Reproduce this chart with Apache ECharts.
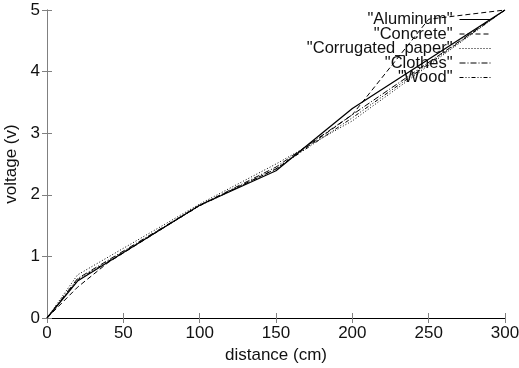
<!DOCTYPE html>
<html>
<head>
<meta charset="utf-8">
<script src="https://cdn.jsdelivr.net/npm/echarts@6/dist/echarts.min.js"></script>
<style>html,body{margin:0;padding:0;background:#fff;}#c{width:519px;height:368px;}</style>
</head>
<body>
<div id="c"></div>
<script>
var seriesNames = ['Aluminum', 'Concrete', 'Corrugated_paper', 'Clothes', 'Wood'];
var aluminum  = [[0,0],[20,0.6],[100,1.83],[150,2.39],[200,3.4],[300,5]];
var concrete  = [[0,0],[20,0.5],[40,0.9],[100,1.83],[150,2.42],[200,3.3],[250,4.85],[300,5]];
var corrugated = [[0,0],[20,0.7],[100,1.85],[150,2.5],[200,3.2],[300,5]];
var clothes   = [[0,0],[20,0.64],[100,1.83],[150,2.45],[200,3.3],[300,5]];
var wood      = [[0,0],[20,0.62],[100,1.82],[150,2.42],[200,3.25],[300,5]];
var xTicks = {min: 0, max: 300, step: 50};
var yTicks = {min: 0, max: 5, step: 1};

var allData = [aluminum, concrete, corrugated, clothes, wood];
var dashes = ['solid', [5,3], [1,2], [6,2,1,2], [4,2,1,2,1,2]];
var widths = [1.3, 1, 1, 1, 1];
var font = "'Liberation Sans', Arial, sans-serif";

var chart = echarts.init(document.getElementById('c'));
var legendRows = [19.5, 34, 48.5, 63, 77.5];
var option = {
  animation: false,
  grid: {left: 47, right: 14, top: 10, bottom: 50, containLabel: false, outerBoundsMode: 'none'},
  textStyle: {fontFamily: font},
  xAxis: [{
    type: 'value', min: xTicks.min, max: xTicks.max, interval: xTicks.step,
    name: 'distance (cm)', nameLocation: 'middle', nameGap: 28,
    nameTextStyle: {fontSize: 17, color: '#111', fontFamily: font},
    axisLine: {lineStyle: {color: '#808080', width: 1}},
    axisTick: {inside: true, length: 5, lineStyle: {color: '#808080'}},
    axisLabel: {fontSize: 17, color: '#111', margin: 7, fontFamily: font},
    splitLine: {show: false}
  }, {
    type: 'value', position: 'top', min: xTicks.min, max: xTicks.max, interval: xTicks.step,
    axisLine: {lineStyle: {color: '#000', width: 1}},
    axisTick: {inside: true, length: 5, lineStyle: {color: '#808080'}},
    axisLabel: {show: false}, splitLine: {show: false}
  }],
  yAxis: [{
    type: 'value', min: yTicks.min, max: yTicks.max, interval: yTicks.step,
    name: 'voltage (v)', nameLocation: 'middle', nameGap: 21,
    nameTextStyle: {fontSize: 17, color: '#111', fontFamily: font},
    axisLine: {show: true, lineStyle: {color: '#808080', width: 1}},
    axisTick: {show: true, inside: true, length: 5, lineStyle: {color: '#808080'}},
    axisLabel: {fontSize: 17, color: '#111', margin: 7, fontFamily: font},
    splitLine: {show: false}
  }, {
    type: 'value', position: 'right', min: yTicks.min, max: yTicks.max, interval: yTicks.step,
    axisLine: {show: true, lineStyle: {color: '#808080', width: 1}},
    axisTick: {show: true, inside: true, length: 5, lineStyle: {color: '#808080'}},
    axisLabel: {show: false}, splitLine: {show: false}
  }],
  legend: seriesNames.map(function (n, i) {
    return {
      data: [n], orient: 'vertical', right: 27, top: legendRows[i] - 8.5, padding: 0,
      align: 'right', itemWidth: 32, itemHeight: 8, itemGap: 0, selectedMode: false,
      formatter: '"{name}"',
      itemStyle: {opacity: 0},
      lineStyle: {width: 1},
      textStyle: {fontSize: 16.5, color: '#111', fontFamily: font, padding: [0, 2, 0, 0]}
    };
  }),
  series: seriesNames.map(function (n, i) {
    return {
      name: n, type: 'line', data: allData[i], symbol: 'none', silent: true,
      xAxisIndex: 0, yAxisIndex: 0,
      color: '#000',
      lineStyle: {color: '#000', width: widths[i], type: dashes[i]},
      z: 5 - i
    };
  })
};
chart.setOption(option);
</script>
</body>
</html>
